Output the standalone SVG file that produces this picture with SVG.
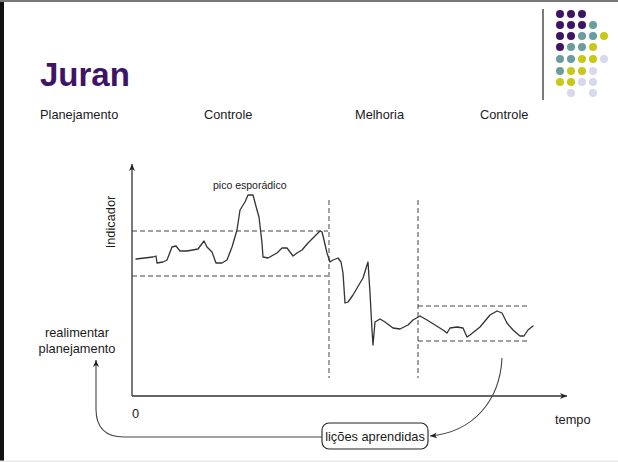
<svg xmlns="http://www.w3.org/2000/svg" width="618" height="462" viewBox="0 0 618 462">
  <defs>
    <style>
      text { font-family: "Liberation Sans", Arial, sans-serif; fill: #1a1a1a; }
      .lbl { font-size: 12.8px; }
      .small { font-size: 10.5px; }
      .axis { stroke: #333; stroke-width: 1.3; fill: none; }
      .dash { stroke: #444; stroke-width: 1; stroke-dasharray: 5 3; fill: none; }
      .sig { stroke: #333; stroke-width: 1.3; fill: none; stroke-linejoin: round; stroke-linecap: round; }
      .conn { stroke: #444; stroke-width: 1.1; fill: none; }
      .p { fill: #3e1466; }
      .t { fill: #6a9e9e; }
      .y { fill: #c8c818; }
      .l { fill: #d8d8ec; }
    </style>
    <marker id="arr" markerWidth="8" markerHeight="8" refX="7" refY="4" orient="auto" markerUnits="userSpaceOnUse">
      <path d="M0,1 L7,4 L0,7 L2,4 Z" fill="#222"/>
    </marker>
  </defs>

  <!-- page frame -->
  <rect x="0" y="0" width="618" height="462" fill="#fff"/>
  <rect x="0" y="0" width="4" height="462" fill="#111"/>
  <rect x="0" y="0" width="618" height="2" fill="#777"/>
  <rect x="0" y="460.5" width="618" height="1.5" fill="#e8e8e8"/>

  <!-- dot ornament -->
  <g id="ornament">
    <line x1="543" y1="9" x2="543" y2="100" stroke="#222" stroke-width="1.2"/>
    <circle class="p" cx="560" cy="14" r="4"/><circle class="p" cx="571" cy="14" r="4"/><circle class="p" cx="582" cy="14" r="4"/>
    <circle class="p" cx="560" cy="25" r="4"/><circle class="p" cx="571" cy="25" r="4"/><circle class="p" cx="582" cy="25" r="4"/><circle class="t" cx="593" cy="25" r="4"/>
    <circle class="p" cx="560" cy="36" r="4"/><circle class="p" cx="571" cy="36" r="4"/><circle class="t" cx="582" cy="36" r="4"/><circle class="t" cx="593" cy="36" r="4"/><circle class="y" cx="604" cy="36" r="4"/>
    <circle class="p" cx="560" cy="47" r="4"/><circle class="t" cx="571" cy="47" r="4"/><circle class="t" cx="582" cy="47" r="4"/><circle class="y" cx="593" cy="47" r="4"/>
    <circle class="t" cx="560" cy="59" r="4"/><circle class="t" cx="571" cy="59" r="4"/><circle class="y" cx="582" cy="59" r="4"/><circle class="y" cx="593" cy="59" r="4"/><circle class="l" cx="604" cy="59" r="4"/>
    <circle class="t" cx="560" cy="71" r="4"/><circle class="y" cx="571" cy="71" r="4"/><circle class="y" cx="582" cy="71" r="4"/><circle class="l" cx="593" cy="71" r="4"/>
    <circle class="y" cx="560" cy="82" r="4"/><circle class="y" cx="571" cy="82" r="4"/><circle class="l" cx="582" cy="82" r="4"/><circle class="l" cx="593" cy="82" r="4"/>
    <circle class="l" cx="571" cy="93" r="4"/><circle class="l" cx="593" cy="93" r="4"/>
  </g>

  <!-- title and phase labels -->
  <text x="40" y="86" font-size="33" font-weight="bold" style="fill:#3e1466">Juran</text>
  <text class="lbl" x="40" y="119">Planejamento</text>
  <text class="lbl" x="204" y="119">Controle</text>
  <text class="lbl" x="355" y="119">Melhoria</text>
  <text class="lbl" x="480" y="119">Controle</text>

  <!-- chart -->
  <g id="chart">
    <line class="axis" x1="132" y1="396" x2="132" y2="164" marker-end="url(#arr)"/>
    <line class="axis" x1="132" y1="396" x2="567" y2="396" marker-end="url(#arr)"/>

    <line class="dash" x1="132" y1="231" x2="328" y2="231"/>
    <line class="dash" x1="132" y1="276" x2="328" y2="276"/>
    <line class="dash" x1="329" y1="200" x2="329" y2="378"/>
    <line class="dash" x1="418" y1="200" x2="418" y2="378"/>
    <line class="dash" x1="418" y1="306" x2="530" y2="306"/>
    <line class="dash" x1="418" y1="341" x2="530" y2="341"/>

    <polyline class="sig" points="136,259 153,257 156,256 157,263 163,262 167,260 172,247 176,246 180,251 187,251 198,249 204,241 207,247 212,252 216,263 222,263 227,260 232,247 237,230 240,210 245,202 248,195 253,195 257,210 259,217 262,243 263,257 268,258 277,253 282,248 287,248 293,256 297,253 302,250 308,243 313,238 320,231 322,232 324,240 327,253 330,262 333,260 338,258 341,262 343,273 345,303 348,302 353,295 360,283 363,278 367,265 368,262 370,293 372,330 373,345 375,322 380,319 385,322 393,328 400,329 408,325 413,320 420,316 427,320 435,325 443,330 447,333 450,328 457,327 463,328 467,337 470,335 480,327 490,315 497,311 502,313 507,323 513,330 520,336 524,336 528,330 533,326"/>

    <text class="small" x="213" y="189">pico esporádico</text>
    <text class="lbl" transform="translate(115,222) rotate(-90)" text-anchor="middle">Indicador</text>
    <text class="lbl" x="132" y="418">0</text>
    <text class="lbl" x="555" y="424">tempo</text>
  </g>

  <!-- feedback node -->
  <g id="feedback">
    <text class="lbl" x="77" y="337" text-anchor="middle">realimentar</text>
    <text class="lbl" x="77" y="353" text-anchor="middle">planejamento</text>
  </g>

  <g id="licoes">
    <rect x="322" y="423" width="106" height="26" rx="7" fill="#fff" stroke="#222" stroke-width="1.1"/>
    <text class="lbl" x="375" y="441" text-anchor="middle">lições aprendidas</text>
  </g>

  <!-- connectors -->
  <g id="connectors">
    <path class="conn" d="M322,437 H124 Q96,437 96,409 V360" marker-end="url(#arr)"/>
    <path class="conn" d="M502,358 C500,400 474,432 430,436" marker-end="url(#arr)"/>
  </g>
</svg>
